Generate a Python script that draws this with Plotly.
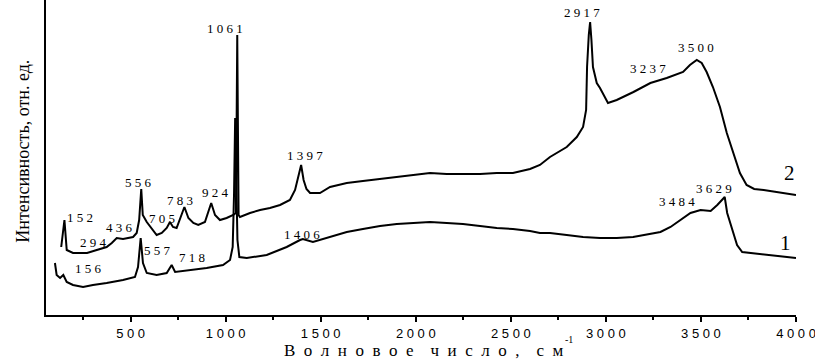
import plotly.graph_objects as go

# Spectrum 2 (upper)
w2 = [135, 145, 152, 164, 197, 240, 271, 322, 374, 401, 427, 460, 513, 532, 545, 556, 564, 585, 611, 637,
      664, 690, 707, 723, 742, 783, 804, 830, 856, 891, 924, 944, 970, 1005, 1040, 1054, 1058, 1061, 1064,
      1068, 1075, 1128, 1181, 1233, 1286, 1338, 1365, 1385, 1397, 1410, 1425, 1444, 1496, 1549, 1637, 1722,
      1812, 1900, 1985, 2075, 2163, 2248, 2338, 2426, 2511, 2601, 2653, 2706, 2794, 2847, 2880, 2896, 2901,
      2910, 2917, 2924, 2932, 2952, 2969, 3011, 3057, 3145, 3234, 3320, 3406, 3442, 3478, 3504, 3530, 3563,
      3600, 3636, 3669, 3705, 3740, 3780, 3830, 3930, 4000]
i2 = [68, 85, 95, 65, 62, 62, 62, 65, 68, 72, 77, 76, 78, 82, 95, 126, 100, 93, 87, 80,
      82, 87, 93, 88, 87, 108, 97, 92, 90, 93, 112, 100, 95, 97, 100, 102, 200, 280, 200,
      100, 98, 102, 105, 107, 110, 115, 125, 140, 150, 135, 126, 122, 122, 128, 132, 134,
      136, 138, 140, 142, 141, 141, 141, 142, 142, 146, 150, 158, 168, 178, 188, 205, 248,
      280, 293, 275, 248, 232, 227, 212, 215, 223, 232, 237, 243, 250, 255, 252, 243, 228,
      208, 182, 162, 142, 130, 126, 125, 122, 120]

# Spectrum 1 (lower)
w1 = [102, 111, 129, 146, 164, 197, 250, 302, 374, 460, 523, 539, 553, 565, 585, 637, 690, 716, 734, 812,
      900, 986, 1023, 1037, 1044, 1050, 1056, 1062, 1072, 1111, 1216, 1321, 1391, 1406, 1459, 1549, 1637,
      1722, 1812, 1900, 1985, 2075, 2163, 2248, 2338, 2426, 2511, 2601, 2653, 2706, 2794, 2880, 2969, 3057,
      3143, 3234, 3287, 3340, 3392, 3445, 3498, 3551, 3586, 3625, 3638, 3664, 3690, 3717, 3761, 3849, 3936,
      4000]
i1 = [52, 40, 37, 40, 33, 30, 28, 30, 32, 35, 38, 48, 77, 52, 42, 40, 42, 50, 43, 45,
      47, 50, 55, 68, 120, 197, 140, 75, 58, 57, 60, 68, 75, 76, 73, 78, 83,
      86, 89, 91, 92, 93, 92, 91, 89, 87, 86, 84, 82, 82, 80, 78, 77, 77,
      78, 81, 83, 88, 95, 102, 105, 104, 110, 118, 102, 85, 70, 63, 62, 60, 58,
      57]

tick_vals = [500, 1000, 1500, 2000, 2500, 3000, 3500, 4000]
tick_text = ["5 0 0", "1 0 0 0", "1 5 0 0", "2 0 0 0", "2 5 0 0", "3 0 0 0", "3 5 0 0", "4 0 0 0"]
minor_vals = [250, 750, 1250, 1750, 2250, 2750, 3250, 3750]

peak_labels = ["1 5 2", "2 9 4", "4 3 6", "5 5 6", "7 0 5", "7 8 3", "9 2 4", "1 0 6 1", "1 3 9 7",
               "2 9 1 7", "3 2 3 7", "3 5 0 0", "1 5 6", "5 5 7", "7 1 8", "1 4 0 6", "3 4 8 4", "3 6 2 9"]
label_x = [234, 307, 439, 544, 665, 760, 944, 997, 1417, 2874, 3222, 3474, 276, 639, 823, 1402, 3374, 3569]
label_y = [98, 73, 88, 133, 97, 115, 123, 287, 160, 303, 247, 268, 47, 65, 58, 81, 114, 127]

x_title_words = ["Волновое", "число,", "см"]

fig = go.Figure()
fig.add_trace(go.Scatter(x=w2, y=i2, mode="lines", line=dict(color="black", width=2), showlegend=False))
fig.add_trace(go.Scatter(x=w1, y=i1, mode="lines", line=dict(color="black", width=2), showlegend=False))

for t, x, y in zip(peak_labels, label_x, label_y):
    fig.add_annotation(x=x, y=y, text=t, showarrow=False,
                       font=dict(family="Liberation Serif", size=13, color="black"))

fig.add_annotation(x=3968, y=142, text="2", showarrow=False,
                   font=dict(family="Liberation Serif", size=21, color="black"))
fig.add_annotation(x=3947, y=72, text="1", showarrow=False,
                   font=dict(family="Liberation Serif", size=21, color="black"))

fig.add_annotation(xref="paper", yref="paper", x=-0.046, y=0.52, textangle=-90,
                   text="Интенсивность, отн. ед.", showarrow=False,
                   font=dict(family="Liberation Serif", size=18, color="black"))

sp = "\u2002"
x_title = (sp * 2).join(sp.join(word) for word in x_title_words)
fig.add_annotation(xref="paper", yref="paper", x=0.503, y=-0.114, yanchor="middle",
                   text=x_title, showarrow=False,
                   font=dict(family="Liberation Serif", size=17, color="black"))
fig.add_annotation(xref="paper", yref="paper", x=0.705, y=-0.079, yanchor="middle",
                   text="-1", showarrow=False,
                   font=dict(family="Liberation Serif", size=10, color="black"))

fig.update_layout(
    width=815, height=360,
    margin=dict(l=46, r=19, t=0, b=45),
    paper_bgcolor="white", plot_bgcolor="white",
    xaxis=dict(range=[55, 4000], showgrid=False, zeroline=False, showline=True,
               linecolor="black", linewidth=2, ticks="outside", ticklen=5, tickwidth=2,
               tickcolor="black", tickmode="array", tickvals=tick_vals, ticktext=tick_text,
               ticklabeloverflow="allow",
               tickfont=dict(family="Liberation Sans", size=13, color="black"),
               minor=dict(tickmode="array", tickvals=minor_vals, ticks="outside", ticklen=3,
                          tickwidth=1.5, tickcolor="black")),
    yaxis=dict(range=[0, 315], showgrid=False, zeroline=False, showline=True,
               linecolor="black", linewidth=2, ticks="", showticklabels=False),
)

fig.write_html("out.html", config={"displayModeBar": False},
               post_script="document.body.style.margin='0';")
